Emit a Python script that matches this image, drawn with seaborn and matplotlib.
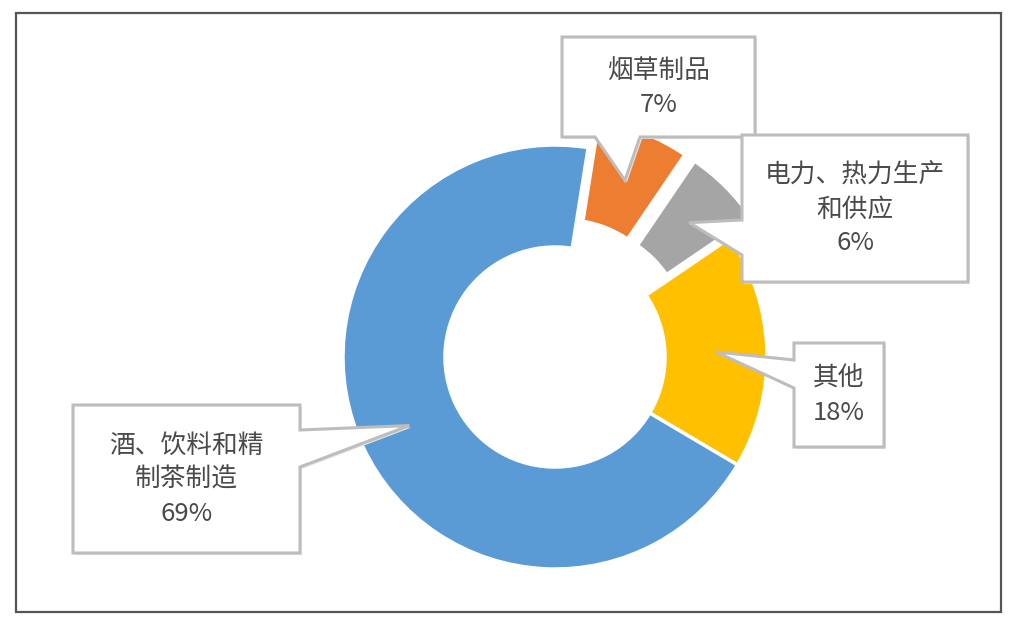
import numpy as np
import matplotlib
matplotlib.use("Agg")
import matplotlib.pyplot as plt
from matplotlib.patches import Polygon, Rectangle
import seaborn as sns

# data (clockwise from the top, as in the original Excel chart)
categories = ["烟草制品", "电力、热力生产\n和供应", "其他", "酒、饮料和精\n制茶制造"]
shares = [7, 6, 18, 69]
colors = ["#ED7D31", "#A5A5A5", "#FFC000", "#5B9BD5"]

W, H = 1017, 626
cx, cy = 555, 357          # donut centre in pixels (y down)
R, ring = 212, 102         # outer radius, ring width
start = 81
explode = [29, 29, 0, 0]

sns.set_theme(style="white")
plt.rcParams["font.family"] = ["Noto Sans CJK SC", "DejaVu Sans"]

fig = plt.figure(figsize=(W / 100, H / 100), dpi=100)
ax = fig.add_axes([0, 0, 1, 1])

ax.pie(shares, colors=sns.color_palette(colors), startangle=start, counterclock=False,
       radius=R, center=(cx, H - cy), explode=explode,
       wedgeprops=dict(width=ring, edgecolor="white", linewidth=2.5))

ax.set_xlim(0, W)
ax.set_ylim(0, H)
ax.set_aspect("equal")
ax.axis("off")

# outer frame
ax.add_patch(Rectangle((16, H - 612), 985, 599, fill=False, edgecolor="#555555",
                       linewidth=1.6, zorder=1))


def tip_point(i):
    # pointer tip sits on the middle of the ring at the wedge's mid angle
    before = sum(shares[:i])
    mid = start - 360 * (before + shares[i] / 2) / sum(shares)
    r = R - ring / 2 + explode[i]
    t = np.deg2rad(mid)
    return cx + r * np.cos(t), cy - r * np.sin(t)


def callout(box, side, base, tip):
    x0, y0, x1, y1 = box
    a, b = base
    if side == "bottom":
        pts = [(x0, y0), (x1, y0), (x1, y1), (b, y1), tip, (a, y1), (x0, y1)]
    elif side == "left":
        pts = [(x0, y0), (x1, y0), (x1, y1), (x0, y1), (x0, b), tip, (x0, a)]
    else:
        pts = [(x0, y0), (x1, y0), (x1, a), tip, (x1, b), (x1, y1), (x0, y1)]
    pts = [(px, H - py) for px, py in pts]
    shadow = [(px + 2, py - 2) for px, py in pts]
    ax.add_patch(Polygon(shadow, closed=True, facecolor="#e6e6e6", edgecolor="none", zorder=4))
    ax.add_patch(Polygon(pts, closed=True, facecolor="white", edgecolor="#bdbdbd",
                         linewidth=2.2, joinstyle="miter", zorder=5))


boxes = [(562, 37, 755, 137), (742, 135, 968, 282), (794, 343, 884, 447), (73, 405, 300, 553)]
sides = ["bottom", "left", "left", "right"]
bases = [(595, 640), (220, 255), (360, 388), (430, 467)]

for i, name in enumerate(categories):
    callout(boxes[i], sides[i], bases[i], tip_point(i))
    x0, y0, x1, y1 = boxes[i]
    ax.text((x0 + x1) / 2, H - (y0 + y1) / 2 - 1, f"{name}\n{shares[i]}%", ha="center",
            va="center", fontsize=18.5, color="#4a4a4a", linespacing=1.4,
            fontweight="light", zorder=6)

fig.savefig("out.png", dpi=100, facecolor="white")
